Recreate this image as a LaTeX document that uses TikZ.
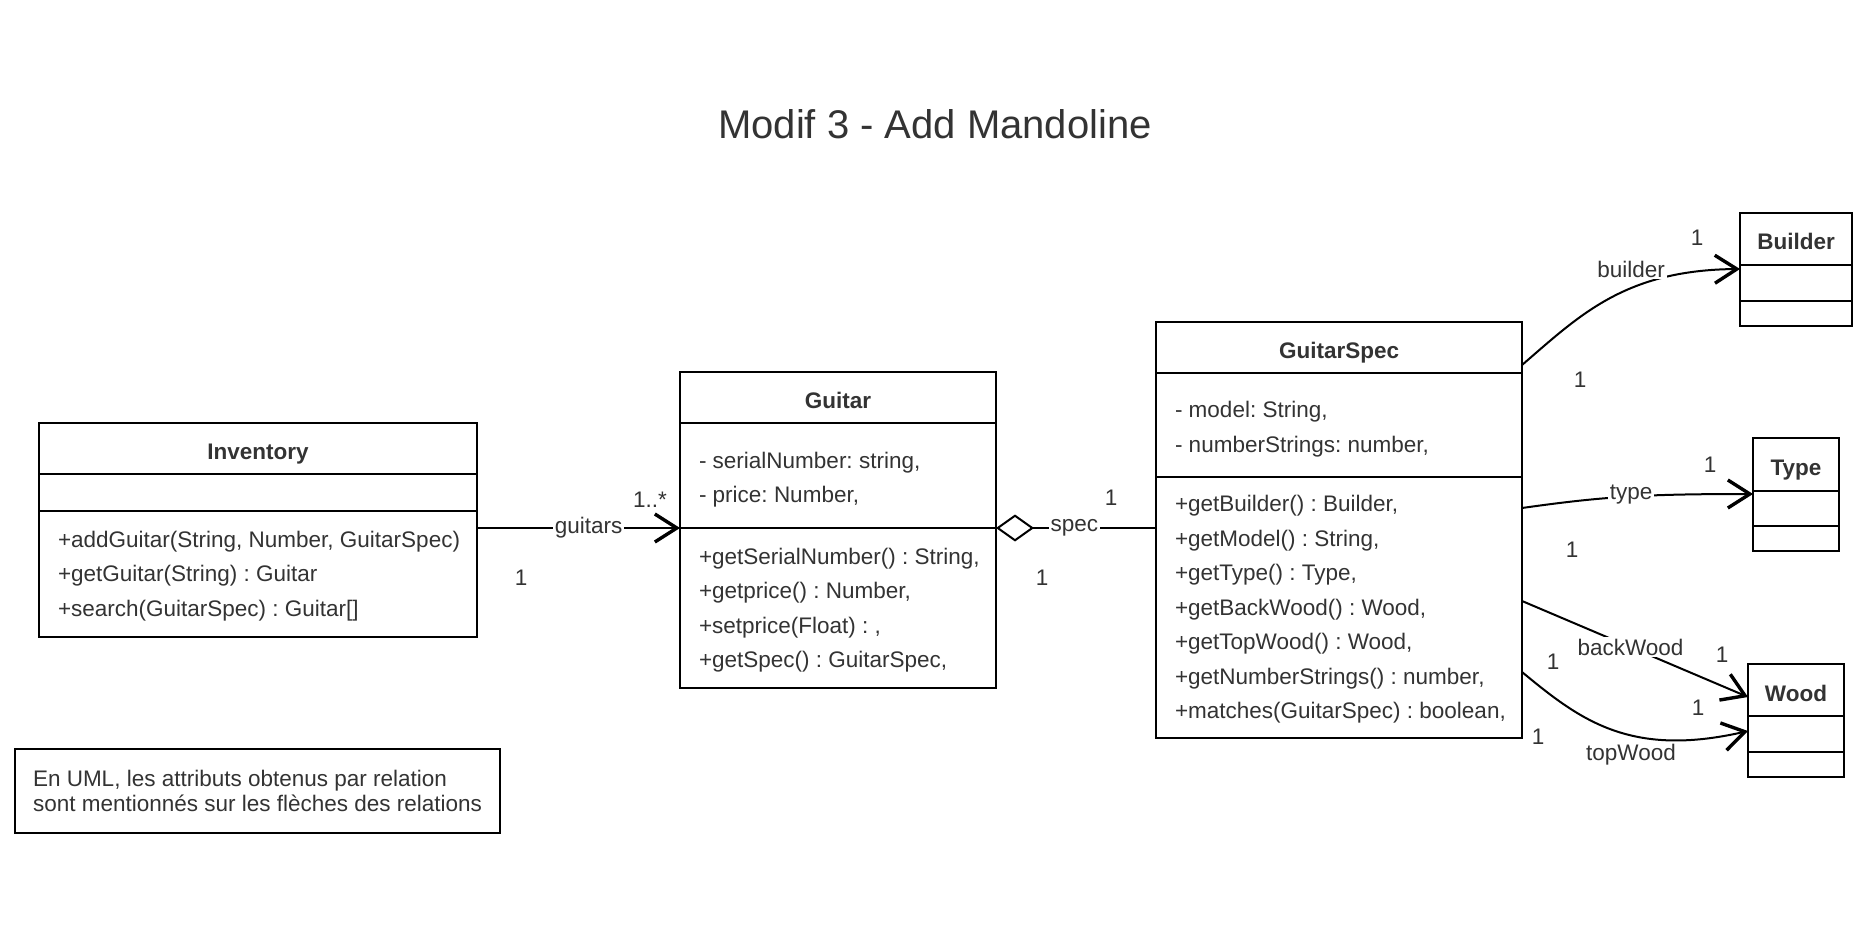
\documentclass[tikz,border=0pt]{standalone}
\usepackage{fontspec}
\setmainfont{Liberation Sans}
\usetikzlibrary{arrows.meta,%
                positioning}
\definecolor{ink}{HTML}{333333}
\frenchspacing

\begin{document}
\begin{tikzpicture}[x=0.5pt, y=-0.5pt, line width=1pt,
    >={Straight Barb[length=11pt,width=14pt,line width=1.7pt]}]
    \tikzstyle{head}=[draw, fill=white, line width=1.2pt, inner sep=0pt, outer sep=0pt, text height=11pt, text depth=0pt, text=ink, font=\bfseries\fontsize{11.25}{13}\selectfont]
    \tikzstyle{part}=[draw, fill=white, line width=1.2pt, inner sep=0pt, outer sep=0pt]
    \tikzstyle{memb}=[anchor=west, align=left, inner sep=0pt, text=ink, font=\fontsize{11.25}{17.25}\selectfont]
    \tikzstyle{lab}=[inner sep=1pt, fill=white, text=ink, font=\fontsize{11.25}{13}\selectfont]
    \tikzstyle{mult}=[inner sep=0pt, text=ink, font=\fontsize{11.25}{13}\selectfont]
    \tikzstyle{assoc}=[->, line width=1pt]

    \fill[white] (0,0) rectangle (1867,935);
    \useasboundingbox (0,0) rectangle (1867,935);

    \node[text=ink, font=\fontsize{20}{24}\selectfont] (title) at (935,124) {Modif 3 - Add Mandoline};

    % Inventory
    \node[head, minimum width=219pt, minimum height=25.5pt, anchor=north west] (invHead) at (39,423) {Inventory};
    \node[part, minimum width=219pt, minimum height=18.5pt, below=0pt of invHead] (invAttr) {};
    \node[part, minimum width=219pt, minimum height=63pt, below=0pt of invAttr] (invOps) {};
    \node[memb] (invOpsTxt) at ([xshift=9pt,yshift=-1pt]invOps.west) {+addGuitar(String, Number, GuitarSpec)\\+getGuitar(String) : Guitar\\+search(GuitarSpec) : Guitar[]};

    % Guitar
    \node[head, minimum width=158pt, minimum height=25.5pt, anchor=north west] (gtrHead) at (680,372) {Guitar};
    \node[part, minimum width=158pt, minimum height=52.5pt, below=0pt of gtrHead] (gtrAttr) {};
    \node[part, minimum width=158pt, minimum height=80pt, below=0pt of gtrAttr] (gtrOps) {};
    \node[memb] (gtrAttrTxt) at ([xshift=9pt,yshift=-2pt]gtrAttr.west) {- serialNumber: string,\\- price: Number,};
    \node[memb] (gtrOpsTxt) at ([xshift=9pt,yshift=-1pt]gtrOps.west) {+getSerialNumber() : String,\\+getprice() : Number,\\+setprice(Float) : ,\\+getSpec() : GuitarSpec,};

    % GuitarSpec
    \node[head, minimum width=183pt, minimum height=25.5pt, anchor=north west] (specHead) at (1156,322) {GuitarSpec};
    \node[part, minimum width=183pt, minimum height=52pt, below=0pt of specHead] (specAttr) {};
    \node[part, minimum width=183pt, minimum height=130.5pt, below=0pt of specAttr] (specOps) {};
    \node[memb] (specAttrTxt) at ([xshift=9pt,yshift=-2pt]specAttr.west) {- model: String,\\- numberStrings: number,};
    \node[memb] (specOpsTxt) at ([xshift=9pt,yshift=-1pt]specOps.west) {+getBuilder() : Builder,\\+getModel() : String,\\+getType() : Type,\\+getBackWood() : Wood,\\+getTopWood() : Wood,\\+getNumberStrings() : number,\\+matches(GuitarSpec) : boolean,};

    % Builder, Type, Wood
    \node[head, minimum width=56pt, minimum height=26pt, anchor=north west] (bldHead) at (1740,213) {Builder};
    \node[part, minimum width=56pt, minimum height=18pt, below=0pt of bldHead] (bldAttr) {};
    \node[part, minimum width=56pt, minimum height=12.5pt, below=0pt of bldAttr] (bldOps) {};

    \node[head, minimum width=43pt, minimum height=26.5pt, anchor=north west] (typeHead) at (1753,438) {Type};
    \node[part, minimum width=43pt, minimum height=17.5pt, below=0pt of typeHead] (typeAttr) {};
    \node[part, minimum width=43pt, minimum height=12.5pt, below=0pt of typeAttr] (typeOps) {};

    \node[head, minimum width=48pt, minimum height=26pt, anchor=north west] (woodHead) at (1748,664) {Wood};
    \node[part, minimum width=48pt, minimum height=18pt, below=0pt of woodHead] (woodAttr) {};
    \node[part, minimum width=48pt, minimum height=12.5pt, below=0pt of woodAttr] (woodOps) {};

    % note
    \node[part, minimum width=242.5pt, minimum height=42pt, anchor=north west, align=left, text=ink, font=\fontsize{11.25}{12.5}\selectfont] (note) at (15,749) {En UML, les attributs obtenus par relation\\sont mentionnés sur les flèches des relations};

    % relations
    \draw[assoc] (invOps.north east |- gtrOps.north west) -- (gtrOps.north west) node[lab, pos=0.55] (lblGuitars) {guitars};
    \draw[{Diamond[open,length=19pt,width=13.5pt]}-] (gtrOps.north east) -- (gtrOps.north east -| specOps.west) node[lab, pos=0.49] (lblSpec) {spec};

    \draw[assoc] ([yshift=4pt]specHead.south east) .. controls (1580,315) and (1625,270) .. ([yshift=-2pt]bldHead.south west);
    \draw[assoc] ([yshift=-15.5pt]specOps.north east) .. controls (1600,497) and (1640,494) .. ([yshift=-1.5pt]typeHead.south west);
    \draw[assoc] ([yshift=-62pt]specOps.north east) -- ([yshift=-3.5pt]woodHead.west) node[lab, pos=0.48] (lblBack) {backWood};
    \draw[assoc] ([yshift=-97.5pt]specOps.north east) .. controls (1580,720) and (1630,758) .. ([yshift=1.5pt]woodAttr.west);

    \node[lab] (lblBuilder) at (1631,269) {builder};
    \node[lab] (lblType) at (1631,495) {type};
    \node[lab] (lblTop) at (1631,755) {topWood};

    % multiplicities
    \node[mult] (mGtrs) at (650,500) {1..*};
    \node[mult] (mInv) at (521,578) {1};
    \node[mult] (mSpecA) at (1111,498) {1};
    \node[mult] (mSpecB) at (1042,578) {1};
    \node[mult] (mBldA) at (1697,238) {1};
    \node[mult] (mBldB) at (1580,380) {1};
    \node[mult] (mTypeA) at (1710,465) {1};
    \node[mult] (mTypeB) at (1572,550) {1};
    \node[mult] (mBackA) at (1722,655) {1};
    \node[mult] (mBackB) at (1553,662) {1};
    \node[mult] (mTopA) at (1698,708) {1};
    \node[mult] (mTopB) at (1538,737) {1};

\end{tikzpicture}
\end{document}
